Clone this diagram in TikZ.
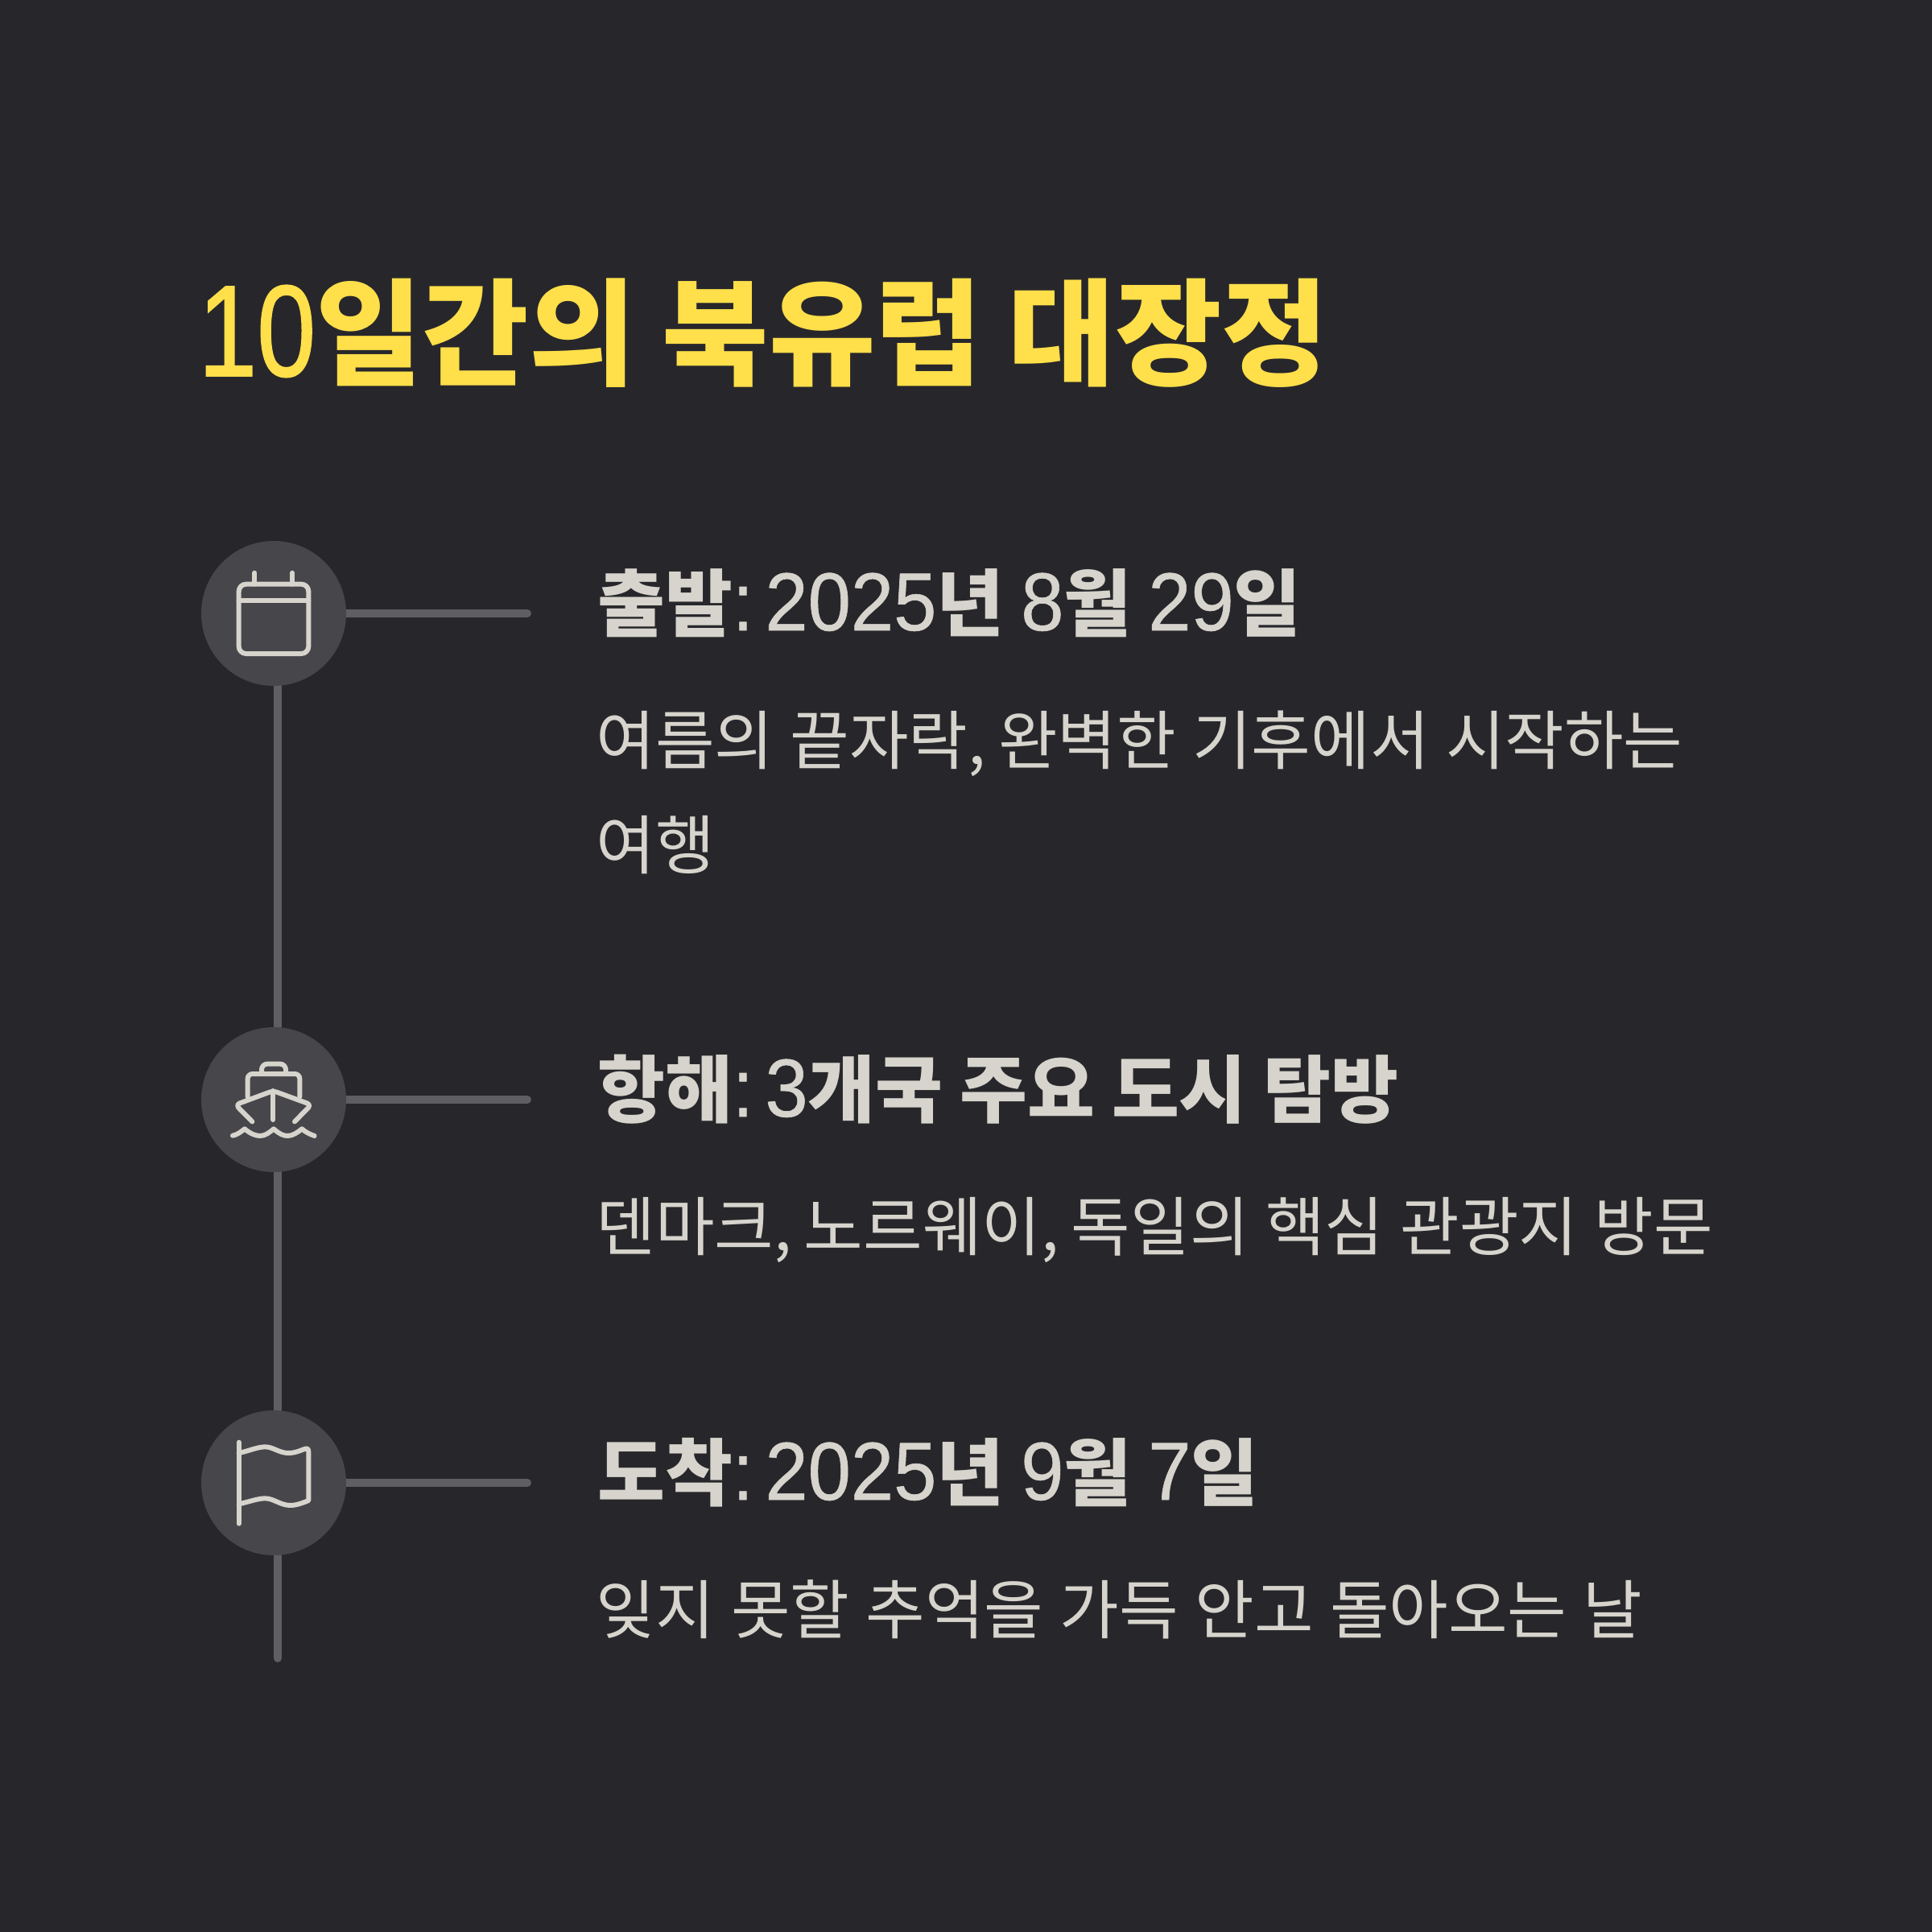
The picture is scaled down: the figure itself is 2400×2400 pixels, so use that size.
\documentclass[tikz,border=0pt]{standalone}
\usepackage{graphicx}
\usepackage{fontspec}
\usetikzlibrary{backgrounds}
\setmainfont{Noto Sans CJK KR}
\newfontfamily\digf[FakeBold=1.2]{Liberation Sans}
\newfontfamily\digh[FakeBold=0.6]{Liberation Sans}
\definecolor{bgc}{HTML}{27272B}
\definecolor{discc}{HTML}{47474B}
\definecolor{linec}{HTML}{5F5F63}
\definecolor{inkc}{HTML}{D6D4CC}
\definecolor{titlec}{HTML}{FFDF4A}
\newcommand{\tdig}[1]{{\mdseries\digf\scalebox{0.91}[1.12]{#1}}}
\newcommand{\hdig}[1]{{\mdseries\digh\scalebox{1.05}[1.12]{#1}}}
\newcommand{\hcol}{{\mdseries\digh\scalebox{1}[1.12]{:}}\kern-3pt\relax}
\newcommand{\cmm}{,\kern-2.5pt\relax}
\newcommand{\bodyfnt}{\fontsize{40}{40}\selectfont}
\newcommand{\ws}{\hspace{10.2pt}}
\tikzset{
 disc/.style={circle,fill=discc,minimum size=90pt,inner sep=0pt},
 rail/.style={draw=linec,line width=5pt,line cap=round},
 icon/.style={draw=inkc,line width=3pt,line cap=round,line join=round},
 titletext/.style={anchor=base west,inner sep=0pt,text=titlec,font=\fontsize{72}{72}\selectfont\bfseries},
 headtext/.style={anchor=base west,inner sep=0pt,text=inkc,font=\fontsize{45.6}{46}\selectfont\bfseries},
 bodytext/.style={anchor=base west,inner sep=0pt,text=inkc,font=\bodyfnt},
}
\begin{document}
\begin{tikzpicture}[x=0.5pt,y=-0.5pt]
\useasboundingbox (0,0) rectangle (2400,2400);
\node[disc] (c1) at (340,762) {};
\node[disc] (c2) at (340,1366) {};
\node[disc] (c3) at (340,1842) {};
\coordinate (h1) at (655,762);
\coordinate (h2) at (655,1366);
\coordinate (h3) at (655,1842);
\coordinate (tail) at (345,2060);
\begin{scope}[on background layer]
\fill[bgc] (0,0) rectangle (2400,2400);
\draw[rail] ([xshift=2.5pt]c1.south) -- ([xshift=2.5pt]c2.north);
\draw[rail] ([xshift=2.5pt]c2.south) -- ([xshift=2.5pt]c3.north);
\draw[rail] ([xshift=2.5pt]c3.south) -- (tail);
\draw[rail] (c1.center) -- (h1);
\draw[rail] (c2.center) -- (h2);
\draw[rail] (c3.center) -- (h3);
\end{scope}
\begin{scope}[shift={(240,660)},scale=1/3]
\draw[icon,rounded corners=4.5pt] (170,197) rectangle (430,456);
\draw[icon] (170,258) -- (430,258);
\draw[icon] (229,155) -- (229,197);
\draw[icon] (369,155) -- (369,197);
\end{scope}
\begin{scope}[shift={(240,1265)},scale=1/3]
\draw[icon,rounded corners=3pt] (203,292) -- (203,207) -- (397,207) -- (397,292);
\draw[icon,rounded corners=3.5pt] (255,207) -- (255,170) -- (345,170) -- (345,207);
\draw[icon,rounded corners=2.5pt] (220,385) -- (158,322) -- (298,270) -- (440,322) -- (378,385);
\draw[icon] (298,270) -- (298,378);
\draw[icon] (147,437) .. controls (170,432) and (180,420) .. (192,412) .. controls (215,432) and (235,438) .. (250,438) .. controls (268,438) and (285,425) .. (300,412) .. controls (320,430) and (335,438) .. (352,438) .. controls (370,438) and (390,425) .. (405,412) .. controls (420,425) and (435,432) .. (452,438);
\end{scope}
\begin{scope}[shift={(240,1740)},scale=1/3]
\draw[icon] (170,155) -- (170,458);
\draw[icon] (170,195) .. controls (205,188) and (240,172) .. (268,172) .. controls (298,172) and (320,195) .. (355,195) .. controls (385,195) and (405,182) .. (422,178) .. controls (428,178) and (430,182) .. (430,190) -- (430,372) .. controls (410,380) and (385,390) .. (362,390) .. controls (325,390) and (300,364) .. (268,364) .. controls (240,364) and (205,378) .. (170,385);
\end{scope}
\node[titletext] (title) at (246,467) {\tdig{10}일간의 북유럽 대장정};
\node[headtext] (h1t) at (742,783) {출발\hcol{} \hdig{2025}년 \hdig{8}월 \hdig{29}일};
\node[bodytext] (b1a) at (740,949) {여름의\ws{}끝자락\cmm\ws{}완벽한\ws{}기후에서\ws{}시작하는};
\node[bodytext] (b1b) at (740,1079) {여행};
\node[headtext] (h2t) at (742,1387) {항해\hcol{} \hdig{3}개국 주요 도시 탐방};
\node[bodytext] (b2) at (740,1553) {덴마크\cmm\ws{}노르웨이\cmm\ws{}독일의\ws{}핵심\ws{}관광지\ws{}방문};
\node[headtext] (h3t) at (742,1863) {도착\hcol{} \hdig{2025}년 \hdig{9}월 \hdig{7}일};
\node[bodytext] (b3) at (740,2029) {잊지\ws{}못할\ws{}추억을\ws{}가득\ws{}안고\ws{}돌아오는\ws{}날};
\end{tikzpicture}
\end{document}
